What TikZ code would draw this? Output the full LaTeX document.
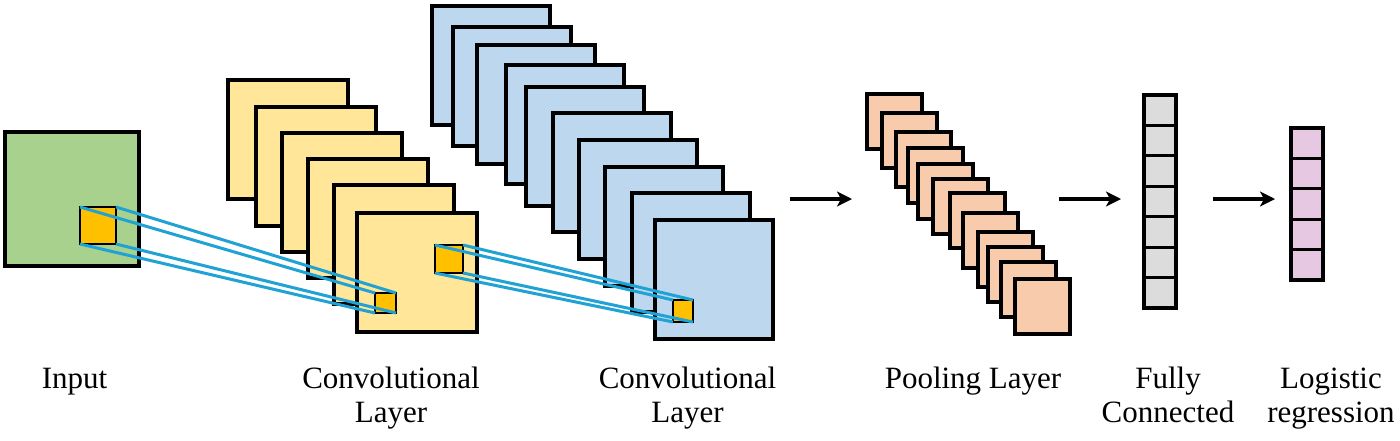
\documentclass[tikz,border=0pt]{standalone}
\usepackage{fontspec}
\setmainfont{LiberationSerif-Regular.ttf}
\newfontfamily\capfont{LiberationSerif-Regular.ttf}
\usetikzlibrary{arrows.meta}
\definecolor{inGreen}{RGB}{169,209,142}
\definecolor{convYellow}{RGB}{255,230,153}
\definecolor{convBlue}{RGB}{189,215,238}
\definecolor{poolPeach}{RGB}{248,203,173}
\definecolor{kernOrange}{RGB}{255,192,0}
\definecolor{fcGray}{RGB}{220,220,220}
\definecolor{lrPink}{RGB}{230,200,226}
\definecolor{linkCyan}{RGB}{32,162,212}
\begin{document}
\begin{tikzpicture}[x=0.5pt,y=-0.5pt,
  sheet/.style={draw=black, line width=1.6pt, inner sep=0pt, outer sep=0pt, anchor=north west},
  inputsheet/.style={sheet, fill=inGreen, minimum width=67pt, minimum height=67pt},
  yellowsheet/.style={sheet, fill=convYellow, minimum width=60pt, minimum height=59.5pt},
  bluesheet/.style={sheet, fill=convBlue, minimum width=59pt, minimum height=59.5pt},
  poolsheet/.style={sheet, line width=1.8pt, fill=poolPeach, minimum width=27.5pt, minimum height=27.5pt},
  kernel/.style={sheet, line width=1.3pt, fill=kernOrange},
  fccell/.style={sheet, fill=fcGray, minimum width=16pt, minimum height=15.2pt},
  lrcell/.style={sheet, fill=lrPink, minimum width=16pt, minimum height=15.2pt},
  link/.style={draw=linkCyan, line width=1.5pt},
  flow/.style={draw=black, line width=2pt, -{Stealth[length=7.5pt,width=7.5pt,inset=2pt]}},
  caption/.style={font=\capfont\fontsize{15.5}{17}\selectfont, align=center, anchor=base, inner sep=0pt}
]
\useasboundingbox (0,0) rectangle (1400,440);

% input
\node[inputsheet] (input) at (5,132) {};
\node[kernel, minimum width=18pt, minimum height=18.5pt] (k0) at (80,207) {};

% first convolutional layer
\foreach \x/\y [count=\i] in {228/80, 256/107, 282/133, 308/159, 334/185, 357/213}
  \node[yellowsheet] (y\i) at (\x,\y) {};
\node[kernel, minimum width=10.5pt, minimum height=10pt] (k1) at (375,293) {};
\node[kernel, minimum width=14pt, minimum height=14pt] (k2) at (435,245) {};
\foreach \c in {north west, north east, south west, south east}
  \draw[link] (k0.\c) -- (k1.\c);

% second convolutional layer
\foreach \x/\y [count=\i] in {432/6, 453/27, 477/45, 506/65, 526/87, 553/113, 579/140, 605/167, 632/193, 655/220}
  \node[bluesheet] (b\i) at (\x,\y) {};
\node[kernel, minimum width=10pt, minimum height=11pt] (k3) at (673,300) {};
\foreach \c in {north west, north east, south west, south east}
  \draw[link] (k2.\c) -- (k3.\c);

% pooling layer
\foreach \x/\y [count=\i] in {867/94, 882/113, 896/132, 908/148, 918/164, 933/179, 950/193, 963/213, 978/232, 988/247, 1001/262, 1015/279}
  \node[poolsheet] (p\i) at (\x,\y) {};

% fully connected
\foreach \i in {0,...,6}
  \node[fccell] (f\i) at (1144,{95+\i*30.43}) {};

% logistic regression
\foreach \i in {0,...,4}
  \node[lrcell] (l\i) at (1291,{128+\i*30.4}) {};

% arrows
\coordinate (a1s) at (790,199); \coordinate (a1e) at (852,199);
\coordinate (a2s) at (1059,199); \coordinate (a2e) at (1121,199);
\coordinate (a3s) at (1213,199); \coordinate (a3e) at (1275,199);
\draw[flow] (a1s) -- (a1e);
\draw[flow] (a2s) -- (a2e);
\draw[flow] (a3s) -- (a3e);

% captions (two-line captions are anchored at the baseline of their last line)
\node[caption] (tin) at (74.5,388) {Input};
\node[caption] (tc1) at (391,422) {Convolutional\\Layer};
\node[caption] (tc2) at (687.5,422) {Convolutional\\Layer};
\node[caption] (tpool) at (973,388) {Pooling Layer};
\node[caption] (tfc) at (1168,422) {Fully\\Connected};
\node[caption] (tlr) at (1331,422) {Logistic\\regression};
\end{tikzpicture}
\end{document}
